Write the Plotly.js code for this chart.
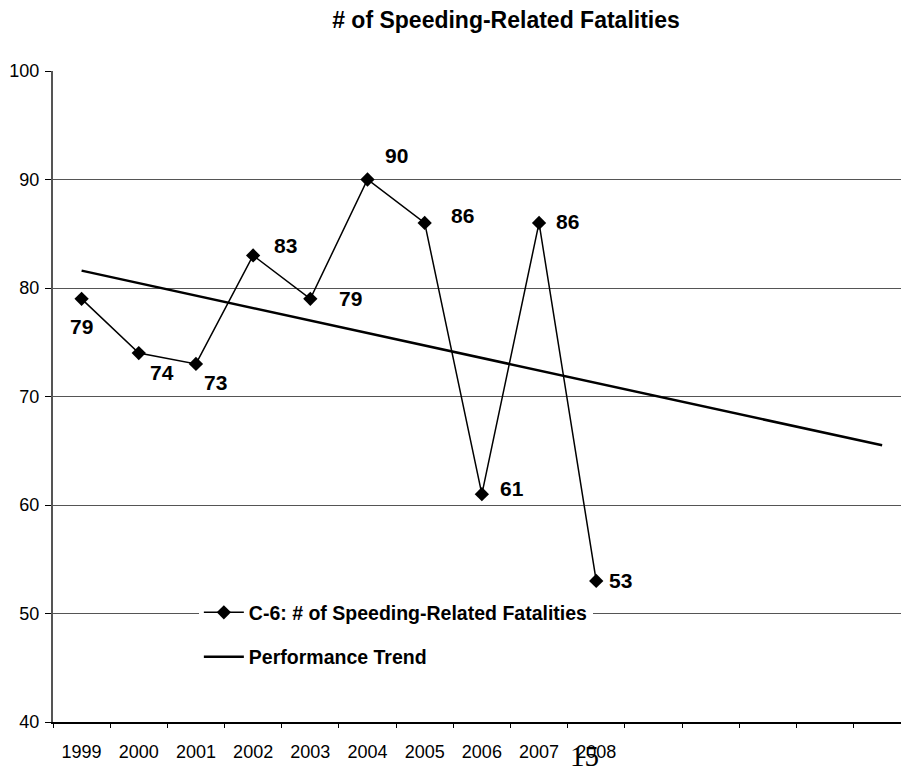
<!DOCTYPE html>
<html>
<head>
<meta charset="utf-8">
<script src="https://cdn.plot.ly/plotly-3.0.1.min.js"></script>
<style>
  html, body { margin: 0; padding: 0; background: #ffffff; }
  #chart { width: 901px; height: 772px; }
</style>
</head>
<body>
<div id="chart"></div>
<script>
// ---- data ----
var axisCategories = ["1999","2000","2001","2002","2003","2004","2005","2006","2007","2008","2009","2010","2011","2012","2013"];
var tickLabels = ["1999","2000","2001","2002","2003","2004","2005","2006","2007","2008","","","","",""];
var years = ["1999","2000","2001","2002","2003","2004","2005","2006","2007","2008"];
var fatalities = [79, 74, 73, 83, 79, 90, 86, 61, 86, 53];
var trendYears = ["1999", "2013"];
var trendValues = [81.6, 65.5];
var seriesName = "C-6: # of Speeding-Related Fatalities";
var trendName = "Performance Trend";
var chartTitle = "# of Speeding-Related Fatalities";
var pageNumber = "15";

// label offsets (style only): [xshift, yshift] in px
var labelOffsets = [[0,-28],[23,-19],[20,-19],[32,10],[40,0],[29,24],[38,7],[30,6],[28,1],[24,0]];

var FONT = "Liberation Sans, Arial, sans-serif";

var traces = [
  {
    x: years, y: fatalities, type: "scatter", mode: "lines+markers",
    name: seriesName, legendgroup: "a",
    line: {color: "#000000", width: 1.5},
    marker: {symbol: "diamond", size: 11, color: "#000000"}
  },
  {
    x: trendYears, y: trendValues, type: "scatter", mode: "lines",
    name: trendName, legendgroup: "b",
    line: {color: "#000000", width: 2.5}
  }
];

var annotations = years.map(function (yr, i) {
  return {
    x: axisCategories.indexOf(yr), y: fatalities[i], xref: "x", yref: "y",
    text: "<b>" + fatalities[i] + "</b>", showarrow: false,
    xanchor: "center", yanchor: "middle",
    xshift: labelOffsets[i][0], yshift: labelOffsets[i][1],
    font: {family: FONT, size: 21, color: "#000000"}
  };
});
annotations.push({
  x: 0.627, y: -0.052, xref: "paper", yref: "paper",
  text: pageNumber, showarrow: false, xanchor: "center", yanchor: "middle",
  font: {family: "Liberation Serif, Times New Roman, serif", size: 29, color: "#000000"}
});

var layout = {
  width: 901, height: 772,
  paper_bgcolor: "#ffffff", plot_bgcolor: "#ffffff",
  margin: {l: 53, r: 0, t: 71, b: 50},
  title: {
    text: "<b>" + chartTitle + "</b>",
    x: 0.5616, xanchor: "center", xref: "container",
    y: 0.974, yanchor: "middle", yref: "container",
    font: {family: FONT, size: 23, color: "#000000"}
  },
  showlegend: true,
  legend: {
    x: 0.172, y: 0.198, xanchor: "left", yanchor: "top",
    bgcolor: "#ffffff", borderwidth: 0,
    font: {family: FONT, size: 19.5, color: "#000000", weight: "bold"},
    traceorder: "grouped", tracegroupgap: 16,
    itemwidth: 40
  },
  xaxis: {
    type: "category",
    categoryorder: "array", categoryarray: axisCategories,
    range: [-0.5, 14.33],
    tickmode: "array", tickvals: axisCategories, ticktext: tickLabels,
    tickson: "boundaries",
    ticks: "outside", ticklen: 4, tickcolor: "#000000", tickwidth: 1,
    showline: true, linecolor: "#000000", linewidth: 1.5,
    showgrid: false, zeroline: false,
    ticklabelstandoff: 13,
    tickfont: {family: FONT, size: 18, color: "#000000"},
    fixedrange: true
  },
  yaxis: {
    range: [40, 100],
    tickmode: "linear", tick0: 40, dtick: 10,
    ticks: "outside", ticklen: 6, tickcolor: "#000000", tickwidth: 1,
    showline: true, linecolor: "#555555", linewidth: 2,
    showgrid: true, gridcolor: "#555555", gridwidth: 1,
    zeroline: false,
    ticklabelstandoff: 2,
    tickfont: {family: FONT, size: 18, color: "#000000"},
    fixedrange: true
  },
  annotations: annotations
};

Plotly.newPlot("chart", traces, layout, {displayModeBar: false, staticPlot: true});
</script>
</body>
</html>
